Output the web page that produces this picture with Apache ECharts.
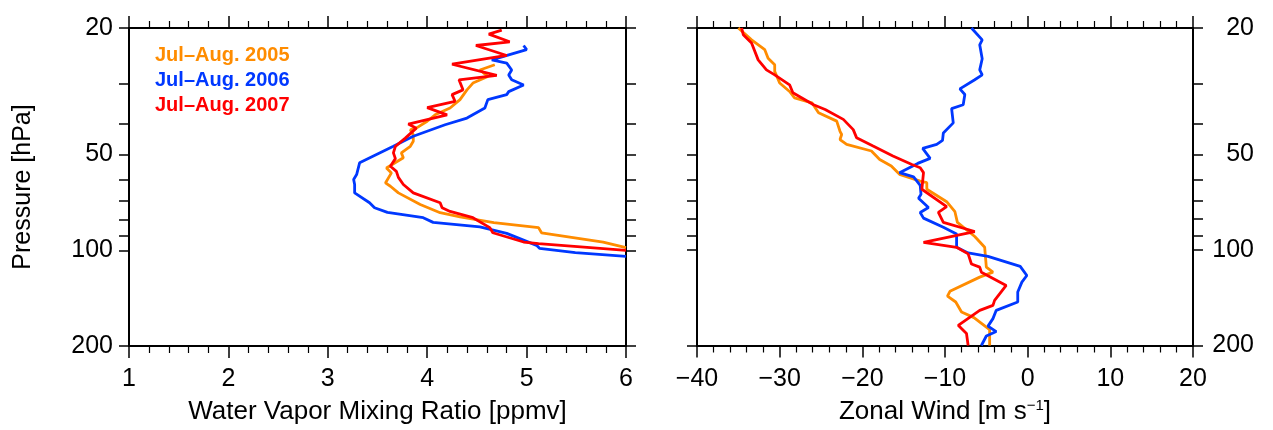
<!DOCTYPE html>
<html>
<head>
<meta charset="utf-8">
<script src="https://cdn.jsdelivr.net/npm/echarts@6/dist/echarts.min.js"></script>
<style>
  html, body { margin: 0; padding: 0; background: #fff; }
  #chart { width: 1273px; height: 430px; }
</style>
</head>
<body>
<div id="chart"></div>
<script>
// [value, pressure hPa]
var names = ["Jul\u2013Aug. 2005", "Jul\u2013Aug. 2006", "Jul\u2013Aug. 2007"];
var colors = ["#ff8c00", "#0038ff", "#ff0000"];

var wv2005 = [
  [4.68, 26.1], [4.53, 27.1], [4.61, 28.4], [4.46, 29.8], [4.40, 31.3], [4.33, 33.6],
  [4.23, 35.7], [4.08, 37.5], [4.00, 39.3], [3.89, 41.3], [3.83, 41.8], [3.86, 43.3],
  [3.86, 45.4], [3.83, 47.1], [3.74, 49.4], [3.76, 51.2], [3.59, 55.1], [3.64, 57.1],
  [3.58, 61.4], [3.63, 62.9], [3.71, 66.0], [3.93, 71.8], [4.13, 76.2], [4.33, 78.5],
  [4.67, 81.9], [5.12, 84.9], [5.15, 88.1], [5.77, 94.2], [6.0, 98.1]
];
var wv2006 = [
  [4.97, 22.7], [5.00, 23.4], [4.82, 24.3], [4.65, 25.2], [4.80, 25.8], [4.85, 27.1],
  [4.82, 28.1], [4.85, 29.1], [4.97, 30.2], [4.82, 31.7], [4.80, 32.4], [4.61, 33.6],
  [4.58, 35.7], [4.40, 38.4], [4.18, 40.3], [3.86, 43.8], [3.66, 47.1], [3.32, 53.1],
  [3.29, 57.8], [3.26, 59.9], [3.27, 62.1], [3.27, 66.0], [3.42, 70.9], [3.47, 73.5],
  [3.60, 76.0], [3.96, 79.0], [4.06, 81.7], [4.53, 84.4], [4.80, 88.5], [5.10, 96.5],
  [5.13, 98.6], [5.49, 101.7], [6.0, 104.5]
];
var wv2007 = [
  [4.75, 20.3], [4.62, 20.9], [4.83, 22.1], [4.49, 22.7], [4.80, 24.4], [4.25, 26.0],
  [4.70, 28.2], [4.32, 29.1], [4.36, 31.3], [4.25, 32.4], [4.28, 34.0], [4.00, 35.6],
  [4.20, 37.5], [3.81, 40.1], [3.89, 41.3], [3.78, 44.4], [3.68, 47.1], [3.66, 49.4],
  [3.68, 51.5], [3.63, 54.4], [3.69, 56.5], [3.71, 59.0], [3.76, 62.1], [3.86, 66.0],
  [4.13, 70.9], [4.15, 73.5], [4.23, 75.5], [4.46, 79.0], [4.63, 84.9], [4.66, 88.1],
  [4.97, 94.2], [5.12, 95.3], [6.0, 100.0]
];

var u2005 = [
  [-35.0, 20.0], [-33.4, 21.8], [-31.8, 23.4], [-31.4, 24.9], [-30.6, 26.1], [-30.6, 27.4],
  [-30.0, 29.8], [-28.8, 31.7], [-28.2, 33.2], [-26.1, 34.4], [-25.3, 37.0], [-23.1, 39.3],
  [-22.7, 42.3], [-22.5, 43.3], [-22.7, 44.9], [-21.9, 46.5], [-18.9, 48.8], [-17.9, 51.9],
  [-16.5, 54.4], [-15.5, 57.8], [-13.0, 60.7], [-12.2, 61.4], [-12.2, 64.4], [-9.8, 70.5],
  [-8.8, 75.8], [-8.5, 81.9], [-6.4, 90.7], [-5.2, 98.1], [-5.0, 113.3], [-4.2, 117.5],
  [-5.8, 121.8], [-9.4, 135.0], [-9.7, 139.9], [-8.7, 145.9], [-8.0, 156.8], [-6.5, 163.4],
  [-4.6, 178.2], [-4.6, 200.0]
];
var u2006 = [
  [-6.8, 20.0], [-5.5, 21.8], [-5.8, 22.6], [-5.5, 25.0], [-5.8, 27.1], [-5.5, 28.1],
  [-6.4, 29.1], [-8.2, 31.1], [-7.6, 32.4], [-7.8, 34.9], [-9.2, 35.9], [-9.0, 39.8],
  [-10.2, 42.8], [-10.3, 45.2], [-11.0, 46.5], [-12.7, 47.9], [-11.8, 51.5], [-13.3, 53.4],
  [-15.5, 57.1], [-13.8, 58.9], [-13.0, 62.6], [-12.9, 66.8], [-13.2, 68.7], [-12.0, 73.5],
  [-13.0, 76.2], [-12.6, 79.4], [-10.2, 84.9], [-8.6, 89.1], [-8.6, 98.1], [-7.2, 102.2],
  [-4.8, 104.8], [-0.9, 112.7], [-0.1, 120.4], [-0.7, 126.3], [-1.2, 135.7], [-1.2, 145.9],
  [-3.8, 155.0], [-4.2, 164.6], [-4.8, 173.8], [-3.8, 180.8], [-5.0, 186.7], [-5.6, 200.0]
];
var u2007 = [
  [-34.6, 20.0], [-34.4, 21.0], [-33.4, 22.3], [-32.6, 25.2], [-31.6, 27.1], [-30.6, 28.1],
  [-28.8, 30.2], [-28.4, 32.0], [-25.9, 34.9], [-24.5, 36.1], [-22.3, 38.8], [-21.1, 41.8],
  [-20.7, 44.3], [-18.7, 47.1], [-16.3, 50.6], [-14.0, 53.8], [-13.0, 55.1], [-12.6, 57.1],
  [-12.8, 64.4], [-9.8, 73.1], [-10.8, 76.2], [-10.2, 81.9], [-6.4, 87.5], [-12.6, 94.6],
  [-8.6, 98.1], [-7.2, 102.9], [-6.8, 110.7], [-5.8, 113.3], [-5.6, 117.5], [-2.6, 129.4],
  [-4.0, 144.2], [-4.2, 149.5], [-5.8, 155.0], [-8.4, 172.8], [-7.4, 183.4], [-7.2, 200.0]
];

var pTicks = [20, 30, 40, 50, 60, 70, 80, 90, 100, 200];
var pLabels = [20, 50, 100, 200];

var font = "Liberation Sans";
var chart = echarts.init(document.getElementById("chart"));

function xAxis(grid, pos, min, max, interval, name) {
  return {
    type: "value",
    gridIndex: grid,
    position: pos,
    min: min,
    max: max,
    interval: interval,
    name: name,
    nameLocation: "middle",
    nameGap: 53,
    nameTextStyle: {
      color: "#000", fontFamily: font, fontSize: 26,
      rich: { sup: { fontFamily: font, fontSize: 15, verticalAlign: "top", padding: [0, 0, 12, 0], color: "#000" } }
    },
    axisLine: { onZero: false, lineStyle: { color: "#000", width: 2 } },
    axisTick: { show: true, length: 12, lineStyle: { color: "#000", width: 1.5 } },
    minorTick: { show: true, splitNumber: 5, length: 7, lineStyle: { color: "#000", width: 1.2 } },
    axisLabel: {
      show: pos === "bottom", margin: 21, color: "#000", fontFamily: font, fontSize: 25,
      formatter: function (v) { return String(v).replace("-", "\u2212"); }
    },
    splitLine: { show: false }
  };
}

function yAxis(grid, pos, labels) {
  return {
    type: "log",
    logBase: 10,
    gridIndex: grid,
    position: pos,
    min: 20,
    max: 200,
    inverse: true,
    name: labels && pos === "left" ? "Pressure [hPa]" : "",
    nameLocation: "middle",
    nameGap: 93,
    nameTextStyle: { color: "#000", fontFamily: font, fontSize: 25 },
    axisLine: { onZero: false, lineStyle: { color: "#000", width: 2 } },
    axisTick: { show: true, length: 10, customValues: pTicks, lineStyle: { color: "#000", width: 1.5 } },
    axisLabel: {
      show: labels,
      customValues: pLabels,
      margin: pos === "left" ? 16 : 61,
      align: "right",
      color: "#000",
      fontFamily: font,
      fontSize: 25
    },
    splitLine: { show: false }
  };
}

function line(i, data, xi, yi) {
  return {
    type: "line",
    name: names[i],
    data: data,
    xAxisIndex: xi,
    yAxisIndex: yi,
    showSymbol: false,
    symbol: "none",
    color: colors[i],
    lineStyle: { color: colors[i], width: 2.8 },
    animation: false
  };
}

chart.setOption({
  animation: false,
  grid: [
    { left: 129, top: 28, width: 497, height: 319 },
    { left: 697, top: 28, width: 496, height: 319 }
  ],
  legend: {
    left: 145,
    top: 40,
    orient: "vertical",
    icon: "none",
    itemWidth: 0,
    itemHeight: 20,
    itemGap: 5,
    selectedMode: false,
    textStyle: { fontFamily: font, fontSize: 20, fontWeight: "bold" },
    data: names.map(function (n, i) {
      return { name: n, textStyle: { color: colors[i] } };
    })
  },
  xAxis: [
    xAxis(0, "bottom", 1, 6, 1, "Water Vapor Mixing Ratio [ppmv]"),
    xAxis(0, "top", 1, 6, 1, ""),
    xAxis(1, "bottom", -40, 20, 10, "Zonal Wind [m s{sup|\u22121}]"),
    xAxis(1, "top", -40, 20, 10, "")
  ],
  yAxis: [
    yAxis(0, "left", true),
    yAxis(0, "right", false),
    yAxis(1, "left", false),
    yAxis(1, "right", true)
  ],
  series: [
    line(0, wv2005, 0, 0),
    line(1, wv2006, 0, 0),
    line(2, wv2007, 0, 0),
    line(0, u2005, 2, 2),
    line(1, u2006, 2, 2),
    line(2, u2007, 2, 2)
  ]
});
</script>
</body>
</html>
